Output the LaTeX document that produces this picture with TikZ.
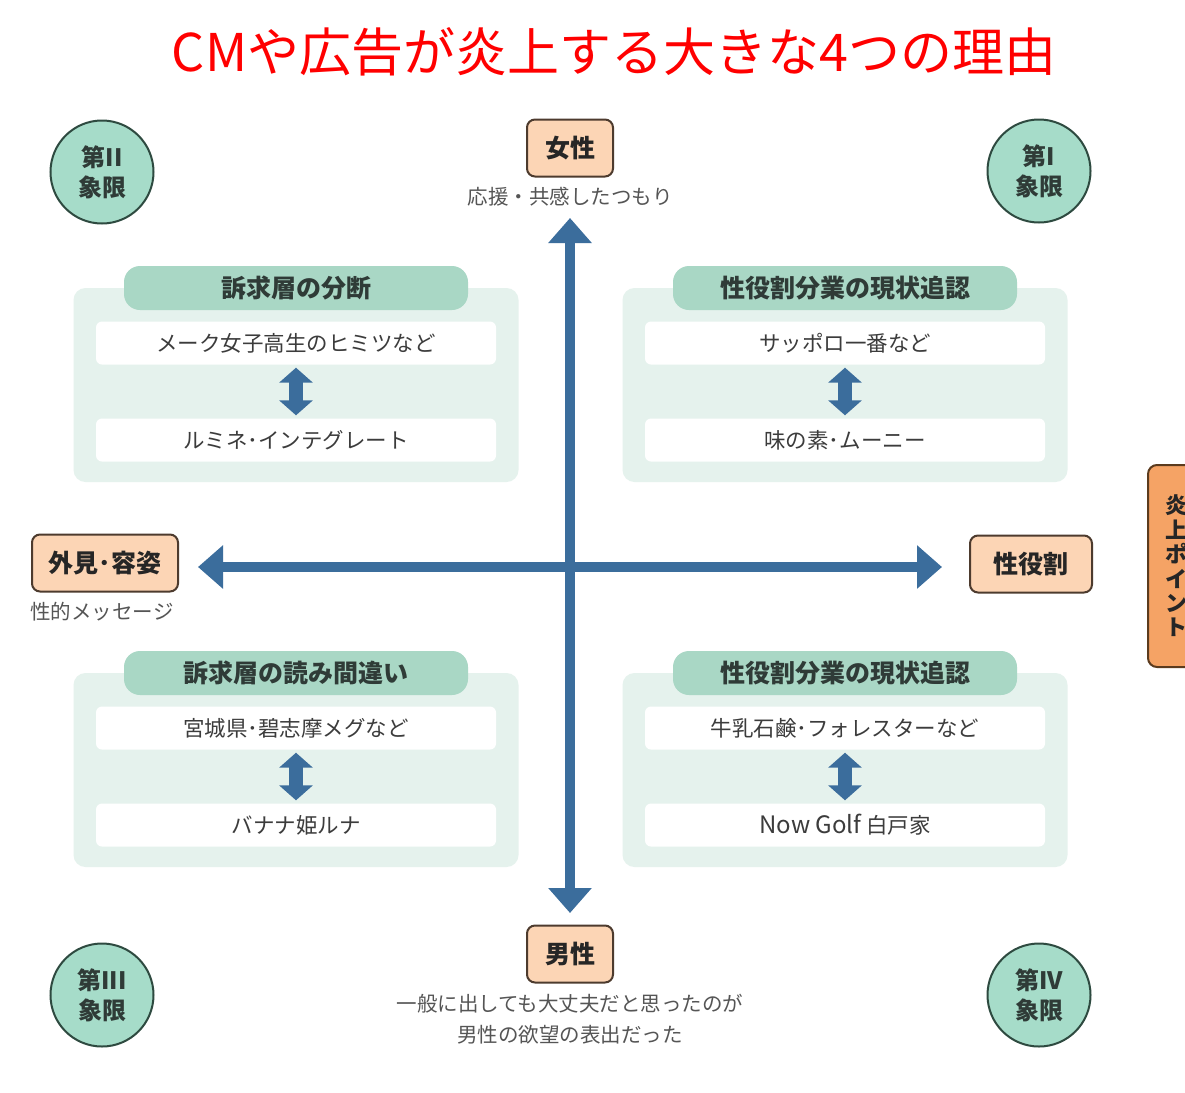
\documentclass[tikz,border=0pt]{standalone}
\usepackage{fontspec}
\setmainfont{Noto Sans CJK JP}
\usetikzlibrary{arrows.meta}
\definecolor{panelbg}{HTML}{E5F2ED}
\definecolor{headbg}{HTML}{A9D7C5}
\definecolor{quadfill}{HTML}{A6DCC9}
\definecolor{quadline}{HTML}{2E4A40}
\definecolor{peach}{HTML}{FCD5B5}
\definecolor{peachline}{HTML}{4D3B2E}
\definecolor{axisblue}{HTML}{3B6D9C}
\definecolor{tabfill}{HTML}{F5A365}
\definecolor{tabline}{HTML}{5B3B1E}
\definecolor{headtext}{HTML}{2F3B37}
\definecolor{itemtext}{HTML}{3C3C3C}
\definecolor{captext}{HTML}{555555}

\tikzset{
  panel/.style={fill=panelbg, rounded corners=12pt, minimum width=445pt, minimum height=194pt},
  header/.style={fill=headbg, rounded corners=16pt, minimum width=344pt, minimum height=44pt,
    text=headtext, font=\fontsize{25}{28}\selectfont\bfseries},
  itembox/.style={fill=white, rounded corners=6pt, minimum width=400pt, minimum height=43pt,
    text=itemtext, font=\fontsize{21.5}{24}\selectfont},
  pole/.style={draw=peachline, line width=2pt, fill=peach, rounded corners=8pt,
    minimum height=57pt, text=black!85, font=\fontsize{25}{28}\selectfont\bfseries},
  quad/.style={circle, draw=quadline, line width=2pt, fill=quadfill, minimum size=103pt,
    inner sep=0pt, align=center, text=headtext, font=\fontsize{24}{30}\selectfont\bfseries},
  caption/.style={text=captext, align=center, font=\fontsize{20.5}{31}\selectfont},
  axis/.style={draw=axisblue, line width=10pt,
    {Triangle[width=42pt,length=25pt]}-{Triangle[width=42pt,length=25pt]}},
  swap/.style={draw=axisblue, line width=14pt, shorten >=3pt, shorten <=3pt,
    {Triangle[width=33pt,length=15pt]}-{Triangle[width=33pt,length=15pt]}}
}

\begin{document}
\begin{tikzpicture}[x=1pt,y=-1pt]
\useasboundingbox (0,0) rectangle (1185,1092);
\clip (0,0) rectangle (1185,1092);
\fill[white] (0,0) rectangle (1185,1092);

% title
\node[text=red, font=\fontsize{52}{56}\selectfont] (title) at (614,52) {CMや広告が炎上する大きな4つの理由};

% quadrant circles
\node[quad] (q2) at (102,172) {第II\\象限};
\node[quad] (q1) at (1039,171) {第I\\象限};
\node[quad] (q3) at (102,995) {第III\\象限};
\node[quad] (q4) at (1039,995) {第IV\\象限};

% quadrant panels
\begin{scope}[shift={(296,385)}]
\node[panel] (tlpanel) at (0,0) {};
\node[header] (tlhead) at (0,-97) {訴求層の分断};
\node[itembox] (tlup) at (0,-42) {メーク女子高生のヒミツなど};
\node[itembox] (tldown) at (0,55) {ルミネ･インテグレート};
\draw[swap] (tlup.south) -- (tldown.north);
\end{scope}
\begin{scope}[shift={(845,385)}]
\node[panel] (trpanel) at (0,0) {};
\node[header] (trhead) at (0,-97) {性役割分業の現状追認};
\node[itembox] (trup) at (0,-42) {サッポロ一番など};
\node[itembox] (trdown) at (0,55) {味の素･ムーニー};
\draw[swap] (trup.south) -- (trdown.north);
\end{scope}
\begin{scope}[shift={(296,770)}]
\node[panel] (blpanel) at (0,0) {};
\node[header] (blhead) at (0,-97) {訴求層の読み間違い};
\node[itembox] (blup) at (0,-42) {宮城県･碧志摩メグなど};
\node[itembox] (bldown) at (0,55) {バナナ姫ルナ};
\draw[swap] (blup.south) -- (bldown.north);
\end{scope}
\begin{scope}[shift={(845,770)}]
\node[panel] (brpanel) at (0,0) {};
\node[header] (brhead) at (0,-97) {性役割分業の現状追認};
\node[itembox] (brup) at (0,-42) {牛乳石鹸･フォレスターなど};
\node[itembox] (brdown) at (0,55) {{\fontsize{24}{24}\selectfont Now Golf} 白戸家};
\draw[swap] (brup.south) -- (brdown.north);
\end{scope}

% axes
\coordinate (vtop) at (570,218);
\coordinate (vbot) at (570,913);
\coordinate (hleft) at (198,567);
\coordinate (hright) at (942,567);
\draw[axis] (vbot) -- (vtop);
\draw[axis] (hleft) -- (hright);

% poles
\node[pole, minimum width=86pt] (female) at (570,148) {女性};
\node[caption] (femalecap) at (570,197) {応援・共感したつもり};
\node[pole, minimum width=86pt] (male) at (570,954) {男性};
\node[caption] (malecap) at (570,1019) {一般に出しても大丈夫だと思ったのが\\男性の欲望の表出だった};
\node[pole, minimum width=146pt] (looks) at (105,563) {外見･容姿};
\node[caption] (lookscap) at (102,612) {性的メッセージ};
\node[pole, minimum width=122pt] (roles) at (1031,564) {性役割};

% side tab
\node[draw=tabline, line width=2pt, fill=tabfill, rounded corners=9pt, minimum width=56pt,
  minimum height=202pt, align=center, text=black!85, font=\fontsize{22}{24.4}\selectfont\bfseries]
  (tab) at (1176,566) {炎\\上\\ポ\\イ\\ン\\ト};

\end{tikzpicture}
\end{document}
